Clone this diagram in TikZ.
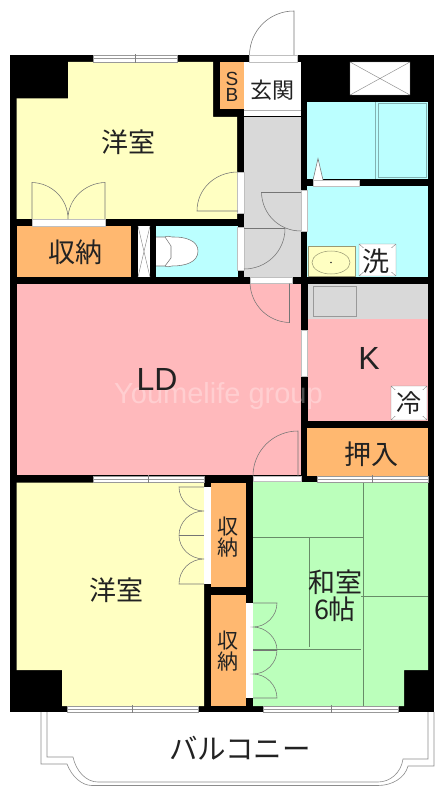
\documentclass[tikz,border=0pt]{standalone}
\usepackage{fontspec}
\newfontfamily\jp{Noto Sans CJK JP}
\newfontfamily\lat{Liberation Sans}
\newcommand{\fs}[1]{\fontsize{#1}{#1}\selectfont}
\definecolor{yel}{HTML}{FFFFC2}
\definecolor{cya}{HTML}{BBFFFF}
\definecolor{pnk}{HTML}{FFB9BC}
\definecolor{ora}{HTML}{FFB870}
\definecolor{grn}{HTML}{BBFFBB}
\definecolor{gry}{HTML}{D9D9D9}
\definecolor{ln}{HTML}{8A8A8A}
\definecolor{ink}{HTML}{222222}
\tikzset{
  leaf/.style={draw=ln!85!black,line width=.55pt},
  mat/.style={draw=black!45!grn,line width=.6pt},
  wht/.style={fill=white,draw=black!25,line width=.3pt},
  glass/.style={fill=white,draw=black!40,line width=.5pt},
  xbox/.style={draw=black!45,line width=.45pt},
  jlab/.style={inner sep=0pt,text=ink,align=center,font=\jp},
  llab/.style={inner sep=0pt,text=ink,align=center,font=\lat},
}
\newcommand{\slide}[5]{% x1 y1 x2 y2 tick
  \fill[glass] (#1,#2) rectangle (#3,#4);
  \draw[black!40,line width=.5pt] (#1,{(#2+#4)/2}) -- (#3,{(#2+#4)/2});
  \draw[black!50,line width=.5pt] (#5,{#2-1}) -- (#5,{#4+1});
}
\begin{document}
\begin{tikzpicture}[x=1pt,y=-1pt]
\useasboundingbox (0,0) rectangle (441,786);
\fill[white] (0,0) rectangle (441,786);
% balcony
\draw[black!45,line width=.6pt] (41,712) -- (41,764) -- (67,764) .. controls (72,777) and (82,785.5) .. (92,785.5) -- (378,785.5) .. controls (392,785.5) and (405,778) .. (408,766) -- (434,766) -- (434,712);
\draw[black!45,line width=.6pt] (47,712) -- (47,757) -- (73,757) .. controls (76,771) and (86,782) .. (98,782) -- (378,782) .. controls (390,782) and (401,773) .. (403,759) -- (428,759) -- (428,712);
% entrance door
\draw[leaf] (249.5,55.5) .. controls (249.5,31) and (269,11) .. (294,11) -- (294,55.5);
% building black
\fill[black] (10,55.5) rectangle (434,712);
% yellow room 1
\fill[yel] (68,62) -- (213,62) -- (213,117) -- (237,117) -- (237,219) -- (16.5,219) -- (16.5,98.5) -- (68,98.5) -- cycle;
% SB + entry + hall
\fill[ora] (220,62.5) rectangle (243.5,109.5);
\fill[white] (243.5,62.5) rectangle (300.5,116.5);
\draw[black!30,line width=.5pt] (243.5,110.5) -- (300.5,110.5);
\fill[gry] (243.5,116.7) rectangle (300.5,277);
% bath
\fill[cya] (307,102) rectangle (428,179.5);
\draw[black!30!cya,line width=.7pt] (375.5,102) -- (375.5,179.5);
\draw[black!30!cya,line width=.7pt] (378.5,103.5) rectangle (426.5,177.5);
% wash
\fill[cya] (307,186.5) rectangle (428,277);
\fill[yel] (308,246) rectangle (355,276);
\draw[black!40!yel,line width=.5pt] (308,246) rectangle (355,276);
\draw[black!40!yel,line width=.5pt] (331,262.5) ellipse [x radius=19,y radius=11.5];
\fill[black!80] (331,262.5) circle (.9);
\fill[white] (359,244) rectangle (396,276);
\draw[xbox] (359,244) rectangle (396,276) (359,244) -- (396,276) (396,244) -- (359,276);
\fill[white] (363,248) rectangle (392,272);
% bath door
\fill[wht] (313,180) rectangle (359,186);
\draw[leaf,fill=white] (313,180) -- (318,158.5) -- (323,180);
% storage 1, closet, toilet
\fill[ora] (16.5,226) rectangle (131,277);
\fill[white] (138,226) rectangle (150,277);
\draw[xbox] (138,226) -- (150,277) (150,226) -- (138,277);
\fill[cya] (156,226) rectangle (237.5,277);
\draw[leaf,fill=white] (156,237) -- (165,237) .. controls (166,236) and (170,236) .. (172,237) .. controls (186,236.5) and (198,241) .. (198,251) .. controls (198,262) and (186,266) .. (172,266) .. controls (170,267) and (166,267) .. (165,266) -- (156,266);
\draw[leaf] (165,237) -- (171,246) -- (171,258) -- (165,266);
% doors room 1
\fill[wht] (32,219.5) rectangle (105,225.7);
\draw[leaf] (32,219) -- (32,182.5) .. controls (52,183) and (68,199) .. (68,219) .. controls (68,199) and (85,183) .. (105,182.5) -- (105,219);
\fill[wht] (237.5,172) rectangle (244,213.5);
\draw[leaf] (238,172) .. controls (215,172) and (197,189) .. (197,211) -- (238,211);
\fill[wht] (237.5,226.7) rectangle (244,270);
\draw[leaf] (244,228.5) -- (285,228.5) .. controls (285,251) and (267,269) .. (244,269);
\fill[wht] (301,190.5) rectangle (307,231);
\draw[leaf] (301,192.5) -- (261.5,192.5) .. controls (262,214) and (279,231) .. (301,231);
% entrance strip and vent
\fill[wht] (249.5,55.5) rectangle (297,62.3);
\fill[white] (350,62) rectangle (410,95);
\draw[xbox] (350,62) rectangle (410,95) (350,62) -- (410,95) (410,62) -- (350,95);
% LD
\fill[pnk] (16.5,283.5) rectangle (301,475);
\fill[wht] (250,277) rectangle (292,283.5);
\draw[leaf] (250,283.5) .. controls (251,305) and (268,322) .. (289.5,322.5) -- (289.5,283.5);
\fill[wht] (253,476) rectangle (301,481.5);
\draw[leaf] (253,476) .. controls (253,451) and (273,431) .. (298,431) -- (298,476);
% K
\fill[gry] (308,283.5) rectangle (428,319);
\draw[black!40,line width=.6pt] (313,286) rectangle (356,316);
\draw[black!40,line width=.5pt] (308,319) -- (428,319);
\fill[pnk] (308,319) rectangle (428,421);
\fill[wht] (301,330) rectangle (307,376);
\fill[white] (391,386) rectangle (427,420);
\draw[xbox] (391,386) rectangle (427,420) (391,386) -- (427,420) (427,386) -- (391,420);
\fill[white] (395,390) rectangle (423,416);
\fill[ora] (307,428) rectangle (428,475.5);
% tatami
\fill[grn] (253,482) -- (428,482) -- (428,670) -- (404,670) -- (404,706) -- (253,706) -- cycle;
\draw[mat] (363,482) -- (363,706) (253,537) -- (363,537) (309.5,537) -- (309.5,647) (253,649) -- (361,649) (361,596) -- (428,596);
% yellow room 2
\fill[yel] (16.5,482.5) -- (204,482.5) -- (204,706) -- (62,706) -- (62,670) -- (16.5,670) -- cycle;
% closets
\fill[ora] (211,482.5) rectangle (246,587);
\fill[ora] (211,595) rectangle (246,706);
\fill[white] (204,487) rectangle (211,584);
\fill[white] (246,603) rectangle (253,698);
\draw[leaf] (204,487) -- (179,487) .. controls (179,500) and (190,511) .. (204,511) .. controls (190,511) and (179,522) .. (179,535.5) .. controls (179,548) and (190,559) .. (204,559) .. controls (190,559) and (179,570) .. (179,584) -- (204,584);
\draw[leaf] (179,535.5) -- (204,535.5);
\draw[leaf] (253,603) -- (277,603) .. controls (277,616) and (266,627) .. (253,627) .. controls (266,627) and (277,638) .. (277,650) .. controls (277,663) and (266,674) .. (253,674) .. controls (266,674) and (277,685) .. (277,698) -- (253,698);
\draw[leaf] (253,650) -- (277,650);
% windows
\slide{93}{55.5}{177}{62}{135}
\slide{93}{476}{204}{482}{148}
\slide{317}{476}{428}{482}{372}
\slide{67.5}{706}{198}{712}{132.5}
\slide{263}{706}{398}{712}{331}
% labels
\node[llab,text=white,opacity=.3] (mark) at (218.5,396) {\fs{29}Youmelife group};
\node[jlab] (yoshitsuA) at (128,142) {\fs{27}洋室};
\node[jlab] (yoshitsuB) at (116,590) {\fs{27}洋室};
\node[llab] (sbS) at (232,78.5) {\fs{19}S};
\node[llab] (sbB) at (232,95) {\fs{19}B};
\node[jlab] (genkan) at (272,90) {\fs{22}玄関};
\node[jlab] (sen) at (376,261) {\fs{27}洗};
\node[jlab] (shunoA) at (75,252) {\fs{27}収納};
\node[llab] (ld) at (157,379) {\fs{32}LD};
\node[llab] (k) at (369,358) {\fs{32}K};
\node[jlab] (rei) at (409,403) {\fs{25}冷};
\node[jlab] (oshiire) at (371,454) {\fs{27}押入};
\node[jlab] (shunoB) at (228,537) {\fs{21}収\\[1pt]\fs{21}納};
\node[jlab] (shunoC) at (228,651) {\fs{21}収\\[1pt]\fs{21}納};
\node[jlab] (washitsu) at (335,596) {\fs{27}和室\\[1pt]\fs{27}6帖};
\node[jlab] (balcony) at (240,748) {\fs{28.5}バルコニー};
\end{tikzpicture}
\end{document}
